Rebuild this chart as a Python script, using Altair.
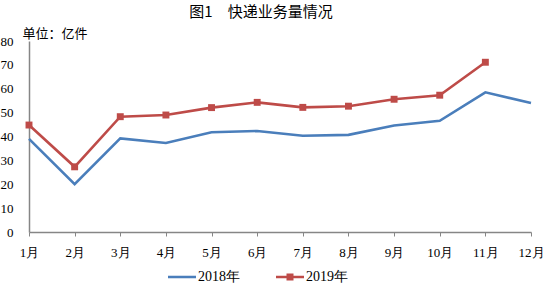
import altair as alt
import pandas as pd

months = list(range(1, 13))
s2018 = [39.0, 20.0, 39.2, 37.3, 41.8, 42.3, 40.3, 40.7, 44.6, 46.6, 58.5, 54.0]
s2019 = [44.8, 27.3, 48.3, 49.0, 52.1, 54.3, 52.2, 52.7, 55.6, 57.3, 71.1]
series_names = ["2018年", "2019年"]
colors = ["#4A7EBB", "#BE4B48"]

rows = []
for m, v in zip(months, s2018):
    rows.append({"month": m, "value": v, "series": series_names[0]})
for m, v in zip(months, s2019):
    rows.append({"month": m, "value": v, "series": series_names[1]})
df = pd.DataFrame(rows)

serif = "Liberation Serif"
cjk = "Noto Sans CJK SC"

x = alt.X("month:Q", scale=alt.Scale(domain=[1, 12], nice=False, zero=False),
          axis=alt.Axis(values=months, labelExpr="datum.value + '月'", title=None,
                        grid=False, domainColor="#868686", tickColor="#868686",
                        tickSize=4, labelPadding=10, labelFont=serif, labelFontSize=13,
                        labelColor="#000000", domainWidth=1.5, labelFlush=False,
                        labelBound=False, labelOverlap=False))
y = alt.Y("value:Q", scale=alt.Scale(domain=[0, 80], nice=False),
          axis=alt.Axis(values=[0, 10, 20, 30, 40, 50, 60, 70, 80], grid=False,
                        domainColor="#868686", ticks=False, labelPadding=16,
                        labelFont=serif, labelFontSize=13, labelColor="#000000",
                        domainWidth=1.5, labelFlush=False,
                        title="单位：亿件", titleAngle=0, titleAlign="left",
                        titleBaseline="middle", titleX=-7, titleY=-8,
                        titleFont=cjk, titleFontSize=13, titleFontWeight="normal",
                        titleColor="#000000"))

line_path = "M-1,-0.09H1V0.09H-1Z"
sq_path = "M-1,-0.09H-0.25V-0.25H0.25V-0.09H1V0.09H0.25V0.25H-0.25V0.09H-1Z"

base = alt.Chart(df)
line_layers = [
    base.transform_filter(alt.datum.series == name).mark_line(strokeWidth=2.6, color=col).encode(x=x, y=y)
    for name, col in zip(series_names, colors)
]

squares = base.transform_filter(alt.datum.series == series_names[1]).mark_square(
    size=48, color=colors[1], opacity=1).encode(x=x, y=y)

legend_layer = base.transform_filter("false").mark_point(filled=True, opacity=1, strokeWidth=0).encode(
    x=x, y=y,
    color=alt.Color("series:N", scale=alt.Scale(domain=series_names, range=colors),
                    legend=alt.Legend(title=None, orient="none", direction="horizontal",
                                      legendX=139, legendY=222, symbolSize=784,
                                      labelFont=serif, labelFontSize=14,
                                      labelColor="#000000", columnPadding=36,
                                      labelOffset=2, symbolStrokeWidth=0)),
    shape=alt.Shape("series:N", scale=alt.Scale(domain=series_names, range=[line_path, sq_path])),
)

chart = alt.layer(*line_layers, squares, legend_layer).properties(
    width=502, height=191,
    title=alt.TitleParams("图1　快递业务量情况", font=cjk, fontSize=15, fontWeight="normal",
                          color="#000000", anchor="middle", offset=7, dx=-19),
    autosize=alt.AutoSizeParams(type="none"),
    padding={"left": 29, "top": 41, "right": 14, "bottom": 51},
).configure_view(stroke=None)

chart.save("out.html", embed_options={"renderer": "svg", "actions": False})
